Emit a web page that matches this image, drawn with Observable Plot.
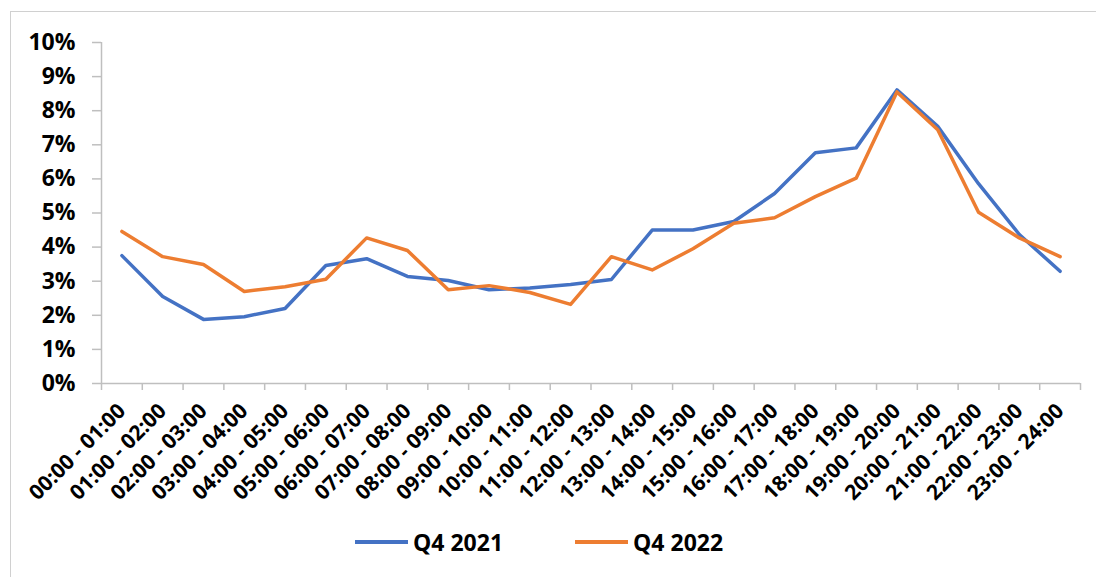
<!DOCTYPE html>
<html>
<head>
<meta charset="utf-8">
<script src="https://cdn.jsdelivr.net/npm/d3@7"></script>
<script src="https://cdn.jsdelivr.net/npm/@observablehq/plot@0.6"></script>
<style>
  html, body { margin: 0; padding: 0; background: #fff; }
  body { position: relative; width: 1096px; height: 577px; overflow: hidden; font-family: "Open Sans", sans-serif; }
  #frame { position: absolute; left: 10px; top: 11px; width: 1200px; height: 700px; border: 1px solid #d0d0d0; box-sizing: border-box; }
  #chart { position: absolute; left: 0; top: 0; }
  #legend { position: absolute; left: 355px; top: 526px; display: flex; align-items: center; font-weight: 700; font-size: 23px; color: #000; }
  .item { display: flex; align-items: center; margin-right: 72px; }
  .swatch { display: inline-block; width: 53px; height: 3.5px; margin-right: 5px; }
</style>
</head>
<body>
<div id="frame"></div>
<div id="chart"></div>
<div id="legend"></div>
<script>
const hours = ["00:00 - 01:00","01:00 - 02:00","02:00 - 03:00","03:00 - 04:00","04:00 - 05:00","05:00 - 06:00",
  "06:00 - 07:00","07:00 - 08:00","08:00 - 09:00","09:00 - 10:00","10:00 - 11:00","11:00 - 12:00",
  "12:00 - 13:00","13:00 - 14:00","14:00 - 15:00","15:00 - 16:00","16:00 - 17:00","17:00 - 18:00",
  "18:00 - 19:00","19:00 - 20:00","20:00 - 21:00","21:00 - 22:00","22:00 - 23:00","23:00 - 24:00"];
const seriesNames = ["Q4 2021", "Q4 2022"];
const seriesColors = ["#4472C4", "#ED7D31"];
const q4_2021 = [3.75, 2.55, 1.88, 1.96, 2.2, 3.46, 3.66, 3.14, 3.02, 2.75, 2.8, 2.9,
  3.05, 4.5, 4.5, 4.75, 5.57, 6.77, 6.91, 8.61, 7.54, 5.86, 4.37, 3.29];
const q4_2022 = [4.46, 3.72, 3.49, 2.7, 2.84, 3.06, 4.27, 3.9, 2.75, 2.87, 2.67, 2.32,
  3.72, 3.33, 3.95, 4.7, 4.86, 5.48, 6.02, 8.55, 7.44, 5.02, 4.27, 3.72];
const yTicks = [0, 1, 2, 3, 4, 5, 6, 7, 8, 9, 10];

const data = [];
[q4_2021, q4_2022].forEach((arr, s) => arr.forEach((v, i) => data.push({i, v: v / 100, series: seriesNames[s]})));
const idx = d3.range(hours.length);
const bounds = d3.range(hours.length + 1).map(i => i - 0.5);
const axisColor = "#bfbfbf";

const chart = Plot.plot({
  width: 1096,
  height: 520,
  marginLeft: 101,
  marginRight: 16,
  marginTop: 42,
  marginBottom: 137,
  style: { fontFamily: "Open Sans, sans-serif", background: "transparent" },
  x: { type: "linear", domain: [-0.5, hours.length - 0.5] },
  y: { domain: [0, 0.1] },
  color: { domain: seriesNames, range: seriesColors },
  marks: [
    Plot.axisY(yTicks.map(d => d / 100), {
      tickSize: 9, tickPadding: 17, tickFormat: d3.format(".0%"),
      stroke: axisColor, strokeWidth: 1.5, fill: "#000", fontSize: 23, fontWeight: "bold", label: null
    }),
    Plot.axisX(bounds, { tickSize: 7, tickFormat: () => "", stroke: axisColor, strokeWidth: 1.5, label: null }),
    Plot.axisX(idx, {
      tickSize: 0, tickPadding: 24, tickRotate: -45, tickFormat: i => hours[i],
      fill: "#000", fontSize: 21, fontWeight: "bold", label: null
    }),
    Plot.ruleY([0], { stroke: axisColor, strokeWidth: 1.5 }),
    Plot.ruleX([-0.5], { stroke: axisColor, strokeWidth: 1.5 }),
    Plot.line(data, { x: "i", y: "v", z: "series", stroke: "series", strokeWidth: 3.5, strokeLinejoin: "round" })
  ]
});
document.getElementById("chart").appendChild(chart);

const legend = document.getElementById("legend");
seriesNames.forEach((name, k) => {
  const item = document.createElement("div");
  item.className = "item";
  const sw = document.createElement("span");
  sw.className = "swatch";
  sw.style.background = seriesColors[k];
  const t = document.createElement("span");
  t.textContent = name;
  item.appendChild(sw); item.appendChild(t);
  legend.appendChild(item);
});
</script>
</body>
</html>
